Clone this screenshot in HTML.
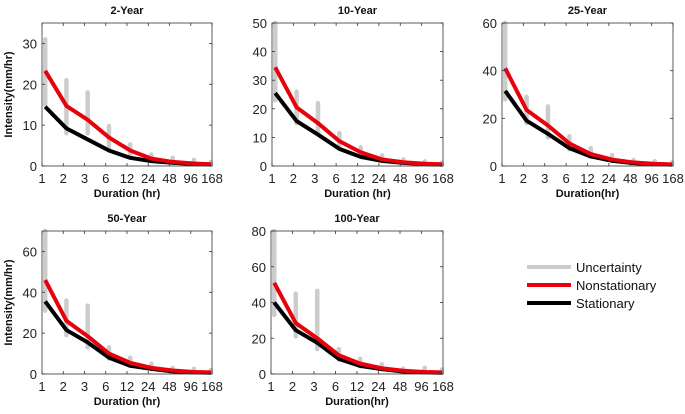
<!DOCTYPE html>
<html><head><meta charset="utf-8"><style>
html,body{margin:0;padding:0;background:#fff;}
svg{display:block;font-family:"Liberation Sans",Arial,sans-serif;}
</style></head><body>
<svg id="chart" width="685" height="414"></svg>
<script>
const durations = ["1","2","3","6","12","24","48","96","168"];
const panelTitles = ["2-Year","10-Year","25-Year","50-Year","100-Year"];
const yMaxes = [35,50,60,70,80];
const yTickSets = [[0,10,20,30],[0,10,20,30,40,50],[0,20,40,60],[0,20,40,60],[0,20,40,60,80]];
const xTitles = ["Duration (hr)","Duration (hr)","Duration(hr)","Duration (hr)","Duration(hr)"];
const nonstat2 = [23.3,14.7,11.3,7,3.8,1.8,1.0,0.6,0.4];
const stat2 = [14.5,9.2,6.5,3.8,2,1.2,0.8,0.5,0.4];
const unc2Lo = [15,8,8,4,2,1.5,0.8,0.5,0.3];
const unc2Hi = [31,21,18,9.8,5.3,2.8,2,1.5,1];
const nonstat10 = [34.5,20.5,15,8.7,4.8,2.3,1.3,0.8,0.6];
const stat10 = [25.5,15.7,11,6,3.2,1.8,1.1,0.7,0.5];
const unc10Lo = [23,15,12,6,3.5,2,1.2,0.7,0.5];
const unc10Hi = [50,26,22,11.5,6.5,3.7,2.3,1.6,1.2];
const nonstat25 = [41,23.5,17,9.5,5,2.7,1.5,0.9,0.7];
const stat25 = [31.5,19,13.5,7.5,4,2.2,1.2,0.8,0.6];
const unc25Lo = [28,18,12,7,4,2.3,1.3,0.8,0.6];
const unc25Hi = [60,29,25,12.5,7.5,4.5,2.5,2,1.5];
const nonstat50 = [46,26,18.5,10,5.5,3,1.7,1,0.8];
const stat50 = [35.5,21.5,15.5,8,4,2.5,1.3,0.8,0.6];
const unc50Lo = [31,19,13,7.5,4,2.5,1.3,0.9,0.7];
const unc50Hi = [70,36,33.5,13,8,5,3,2.5,2];
const nonstat100 = [51,28.5,20,10.5,5.8,3.2,1.8,1.1,0.9];
const stat100 = [40,24.5,17.5,8.5,4.5,2.7,1.4,0.9,0.7];
const unc100Lo = [33,21,14,8,4.3,2.7,1.4,1,0.7];
const unc100Hi = [80,45,46.5,14,8.5,5.5,3,3.5,2.5];

const nonstatSets=[nonstat2,nonstat10,nonstat25,nonstat50,nonstat100];
const statSets=[stat2,stat10,stat25,stat50,stat100];
const uncLoSets=[unc2Lo,unc10Lo,unc25Lo,unc50Lo,unc100Lo];
const uncHiSets=[unc2Hi,unc10Hi,unc25Hi,unc50Hi,unc100Hi];
const boxes=[{l:42,r:212,t:23,b:166},{l:272,r:443,t:23,b:166},{l:502,r:673,t:23,b:166},{l:42,r:212,t:231,b:374},{l:271,r:443,t:231,b:374}];

const NS="http://www.w3.org/2000/svg";
const svg=document.getElementById('chart');
function mk(tag,attrs,parent){const e=document.createElementNS(NS,tag);for(const k in attrs)e.setAttribute(k,attrs[k]);(parent||svg).appendChild(e);return e;}

boxes.forEach((bx,p)=>{
  const g=mk('g',{});
  
  
  const n=durations.length;
  const xs=i=>bx.l+(bx.r-bx.l)*(Math.min(i+0.15,n-1.05))/(n-1);
  const xt=i=>bx.l+(bx.r-bx.l)*i/(n-1);
  const ys=v=>bx.b-(bx.b-bx.t)*v/yMaxes[p];
  // uncertainty bars
  for(let i=0;i<n;i++){
    const b=mk('line',{x1:xs(i),x2:xs(i),y1:ys(uncLoSets[p][i]),y2:ys(uncHiSets[p][i]),stroke:'#cccccc','stroke-width':4.5,'stroke-linecap':'round'},g);
    
    
  }
  const mkLine=(arr,col,name)=>{
    const pl=mk('polyline',{points:arr.map((v,i)=>xs(i)+','+ys(v)).join(' '),fill:'none',stroke:col,'stroke-width':4,'stroke-linejoin':'round'},g);
    
    
  };
  mkLine(statSets[p],'#000','stationary-line');
  mkLine(nonstatSets[p],'#e8000b','nonstationary-line');
  // box
  const r=mk('rect',{x:bx.l,y:bx.t,width:bx.r-bx.l,height:bx.b-bx.t,fill:'none',stroke:'#333','stroke-width':0.8},g);
  
  
  for(let i=0;i<n;i++){
    mk('line',{x1:xt(i),x2:xt(i),y1:bx.b,y2:bx.b-3,stroke:'#333','stroke-width':0.8},g);
    mk('line',{x1:xt(i),x2:xt(i),y1:bx.t,y2:bx.t+3,stroke:'#333','stroke-width':0.8},g);
    const t=mk('text',{x:xt(i),y:bx.b+17,'text-anchor':'middle','font-size':13,fill:'#222'},g);
    t.textContent=durations[i];
    
    
  }
  yTickSets[p].forEach(v=>{
    mk('line',{x1:bx.l,x2:bx.l+3,y1:ys(v),y2:ys(v),stroke:'#333','stroke-width':0.8},g);
    mk('line',{x1:bx.r,x2:bx.r-3,y1:ys(v),y2:ys(v),stroke:'#333','stroke-width':0.8},g);
    const t=mk('text',{x:bx.l-5,y:ys(v)+5,'text-anchor':'end','font-size':13,fill:'#222'},g);
    t.textContent=v;
    
    
  });
  const tt=mk('text',{x:(bx.l+bx.r)/2,y:bx.t-9,'text-anchor':'middle','font-size':11,'font-weight':'bold',fill:'#111'},g);
  tt.textContent=panelTitles[p];
  
  
  const xa=mk('text',{x:(bx.l+bx.r)/2,y:bx.b+31,'text-anchor':'middle','font-size':11,'font-weight':'bold',fill:'#111'},g);
  xa.textContent=xTitles[p];
  
  
  if(bx.l<100){
    const cy=(bx.t+bx.b)/2;
    const ya=mk('text',{x:12,y:cy,'text-anchor':'middle','font-size':11,'font-weight':'bold',fill:'#111',transform:'rotate(-90 12 '+cy+')'},g);
    ya.textContent='Intensity(mm/hr)';
    
    
  }
});
// legend
const legendLabels=["Uncertainty","Nonstationary","Stationary"];
const legendColors=["#cccccc","#e8000b","#000"];
legendLabels.forEach((lab,i)=>{
  const y=267+i*18;
  const lg=mk('g',{});
  
  
  mk('line',{x1:527,x2:571,y1:y,y2:y,stroke:legendColors[i],'stroke-width':4},lg);
  const t=mk('text',{x:576,y:y+5,'font-size':13,fill:'#111'},lg);
  t.textContent=lab;
});
</script>
</body></html>
